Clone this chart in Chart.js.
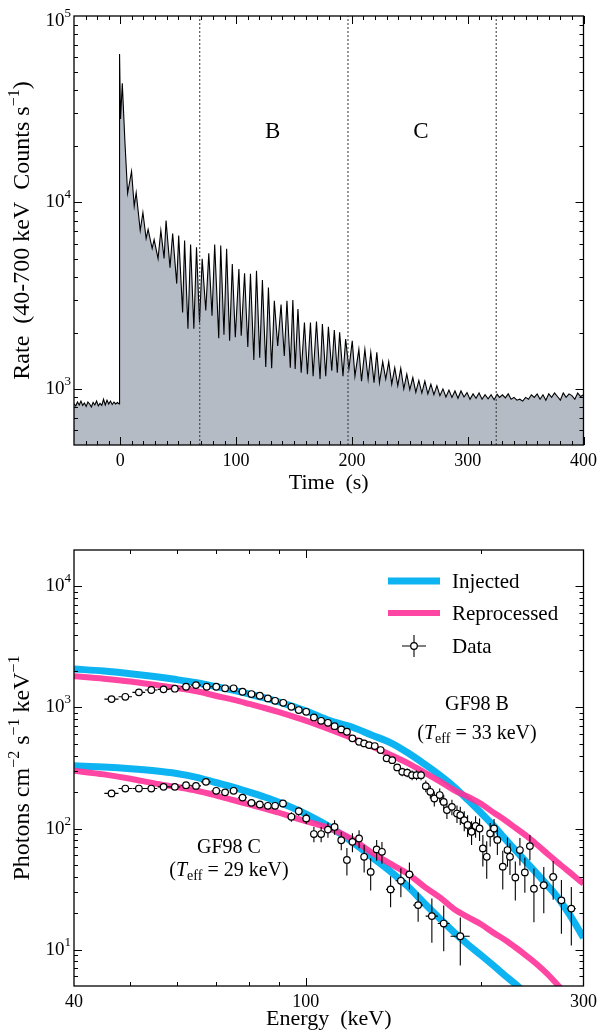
<!DOCTYPE html>
<html>
<head>
<meta charset="utf-8">
<script src="https://cdn.jsdelivr.net/npm/chart.js@4.4.1/dist/chart.umd.min.js"></script>
<style>
  html, body { margin: 0; padding: 0; background: #fff; }
  #wrap { position: relative; width: 602px; height: 1032px; }
  canvas { position: absolute; left: 0; }
  #lc { top: 0; }
  #sp { top: 500px; }
</style>
</head>
<body>
<div id="wrap">
  <canvas id="lc" width="602" height="500"></canvas>
  <canvas id="sp" width="602" height="532"></canvas>
</div>
<script>
const FONT = '"Liberation Serif", "DejaVu Serif", serif';

// ---- top panel: light curve (40-700 keV) ----
const lcTime = [
  -40, -38.5, -37, -35.5, -34, -32.5, -31, -29.5, -28, -26.5,
  -25, -23.5, -22, -20.5, -19, -17.5, -16, -14.5, -13, -11.5,
  -10, -8.5, -7, -5.5, -4, -2.5, -1, -0.7,
  -0.6, 0.2, 1.7, 4.0, 6.3, 9.7, 12.0, 13.7, 17.2, 19.5,
  22.3, 24.0, 27.5, 29.2, 32.6, 35.0, 37.8, 39.5, 42.9, 45.2,
  48.7, 50.4, 53.8, 55.5, 58.4, 60.7, 63.5, 65.8, 68.4, 70.7,
  73.8, 76.4, 79.2, 81.5, 85.0, 86.7, 89.5, 91.8, 94.4, 96.7,
  99.3, 102.4, 104.4, 107.3, 110.1, 112.4, 115.3, 117.6, 120.4, 122.7,
  125.6, 127.9, 130.7, 133.0, 135.9, 138.8, 141.6, 143.9, 146.8, 149.0,
  151.0, 153.4, 156.2, 159.0, 161.6, 164.2, 166.5, 169.4, 172.5, 174.5,
  177.4, 179.7, 182.6, 184.8, 187.4, 189.4, 192.3, 194.6, 197.4, 200.3,
  202.6, 206.0, 208.3, 211.2, 214.0, 216.3, 219.1, 221.5, 223.8, 226.6,
  229.2, 231.8, 234.4, 237.0, 239.6, 242.2, 244.8, 247.4, 250.0, 252.6,
  255.2, 257.8, 260.4, 263.0, 265.6, 268.2, 270.8, 273.4, 276.0, 278.6,
  281.2, 283.8, 286.4, 289.0, 291.6, 294.2, 296.8, 299.4, 302.0, 304.6,
  307.2, 309.8, 312.4, 315.0, 317.6, 320.2, 322.8, 325.4, 327.5, 330,
  332.5, 335, 337.5, 340, 342.5, 345, 347.5, 350, 352.5, 355,
  357.5, 360, 362.5, 365, 367.5, 370, 372.5, 375, 377.5, 380,
  382.5, 385, 387.5, 390, 392.5, 395, 397.5, 400
];
const lcRate = [
  830, 810, 850, 820, 860, 815, 840, 805, 850, 830,
  800, 845, 820, 860, 810, 835, 815, 880, 820, 870,
  830, 860, 825, 850, 830, 845, 830, 840,
  62500, 28000, 43500, 21000, 11200, 14700, 9550, 11300, 7070, 8830,
  6400, 7160, 5660, 6320, 5000, 7070, 5000, 8000, 4470, 6810,
  3670, 6650, 2570, 6250, 2100, 5950, 2100, 5750, 2270, 4980,
  2630, 5340, 2470, 5950, 1870, 5870, 1950, 5640, 1810, 4680,
  1890, 4400, 1930, 4170, 1680, 4140, 1430, 4300, 1470, 3840,
  1310, 3500, 1290, 2970, 1700, 2830, 1500, 2970, 1300, 3000,
  1280, 2680, 1220, 2270, 1200, 2270, 1170, 2300, 1130, 2230,
  1170, 2150, 1250, 2070, 1220, 2010, 1170, 1850, 1280, 1810,
  1170, 1630, 1100, 1630, 1130, 1570, 1080, 1570, 1080, 1400,
  1130, 1400, 1060, 1300, 1040, 1290, 1000, 1200, 990, 1150,
  960, 1110, 950, 1100, 940, 1060, 930, 1040, 920, 1000,
  905, 985, 900, 975, 890, 975, 905, 955, 880, 940,
  890, 950, 880, 930, 885, 930, 875, 935, 900, 930,
  895, 940, 880, 900, 870, 880, 860, 900, 880, 930,
  900, 940, 880, 930, 870, 940, 900, 950, 910, 870,
  950, 900, 940, 920, 880, 950, 910, 930
];
const intervalEdges = [68.6, 196.6, 324.6];
const intervalNames = ['B', 'C'];
const timeTicks = [0, 100, 200, 300, 400];

// ---- bottom panel: spectra ----
const modelEnergy = [40, 45, 50, 55, 60, 65, 70, 75, 80, 85, 90, 95, 100, 110, 120, 130, 140, 150,
  160, 170, 180, 190, 200, 210, 220, 230, 240, 250, 260, 270, 280, 290, 300];
const injectedB = [2080, 2000, 1900, 1800, 1700, 1600, 1490, 1390, 1290, 1200, 1110, 1020, 940, 780, 690, 590, 510, 420,
  340, 275, 220, 172, 135, 106, 82, 65, 52, 42, 34, 27.5, 21.5, 16.5, 12.5];
const reprocessedB = [1815, 1730, 1640, 1540, 1450, 1360, 1250, 1160, 1070, 990, 915, 845, 780, 660, 560, 475, 405, 345,
  290, 245, 207, 183, 160, 136, 117, 100, 86, 73, 62, 53, 46, 40, 35];
const injectedC = [330, 322, 312, 300, 285, 265, 240, 220, 200, 182, 165, 148, 132, 103, 78, 58, 44, 33,
  24, 18, 13.8, 11, 9, 7.4, 6.1, 5.1, 4.2, 3.5, 2.9, 2.4, 2, 1.7, 1.4];
const reprocessedC = [300, 280, 258, 236, 220, 205, 188, 172, 158, 146, 135, 124, 115, 100, 82, 63, 51, 42,
  33, 27, 21.5, 18.5, 16.2, 13.8, 12.0, 10.3, 8.8, 7.5, 6.3, 5.2, 4.3, 3.6, 3.0];

const dataEnergyB = [46.4, 49.0, 51.7, 54.3, 57.0, 59.6, 62.3, 64.8, 67.6, 70.2,
  72.7, 75.2, 77.9, 80.7, 83.4, 86.1, 88.6, 91.5, 94.5, 97.3,
  100.2, 103.3, 106.3, 109.2, 112.1, 115.1, 117.7, 120.3, 123.5, 126.0,
  128.5, 131.4, 134.5, 137.7, 140.8, 143.6, 146.5, 149.4, 152.3, 155.0,
  157.8, 160.8, 163.7, 166.3, 169.9, 172.6, 174.8, 178.3, 181.9, 184.3,
  187.2, 189.7, 192.7, 195.8, 198.9, 201.5, 204.6, 207.4, 210.6, 213.4,
  218.0, 222.1, 224.3, 229.1, 233.3, 237.9, 242.7, 246.6, 256.4, 266.1,
  274.9, 285.9];
const dataFluxB = [1173, 1225, 1333, 1394, 1412, 1429, 1483, 1531, 1483, 1483,
  1440, 1440, 1349, 1291, 1250, 1189, 1136, 1093, 1013, 952,
  921, 827, 776, 747, 701, 659, 630, 556, 521, 505,
  489, 480, 445, 380, 367, 320, 294, 289, 276, 276,
  276, 224, 201, 177, 189, 166, 142, 151, 133, 129,
  117, 107, 94, 105, 100, 68.5, 58.4, 91, 100, 80.5,
  48.4, 66.4, 58.4, 39.4, 66.4, 43.4, 71.6, 31.8, 34, 39.8,
  25.5, 21.8];
const dataErrB = [15, 15, 15, 15, 15, 15, 15, 15, 15, 15,
  15, 15, 15, 15, 15, 15, 15, 15, 15, 15,
  15, 15, 15, 15, 15, 15, 15, 15, 15, 15,
  16, 16, 17, 18, 20, 22, 24, 24, 25, 25,
  25, 25, 25, 25, 25, 24, 22, 22, 22, 22,
  22, 22, 21, 21, 21, 20, 20, 20, 20, 20,
  17, 18, 17, 14, 17, 14, 17, 15, 14, 14,
  12, 11];
const dataBinB = [1.3, 1.3, 1.3, 1.3, 1.3, 1.3, 1.3, 1.3, 1.3, 1.3,
  1.2, 1.2, 1.3, 1.4, 1.4, 1.3, 1.3, 1.4, 1.4, 1.4,
  1.5, 1.5, 1.5, 1.5, 1.5, 1.5, 1.3, 1.4, 1.5, 1.3,
  1.3, 1.5, 1.5, 1.6, 1.5, 1.4, 1.5, 1.5, 1.4, 1.4,
  1.4, 1.5, 1.5, 1.4, 1.8, 1.4, 1.2, 1.8, 1.8, 1.2,
  1.5, 1.3, 1.5, 1.6, 1.6, 1.4, 1.6, 1.4, 1.6, 1.4,
  2.3, 2.0, 1.2, 2.4, 2.1, 2.3, 2.4, 2.0, 4.5, 4.5,
  4.0, 5.0];

const dataEnergyC = [46.4, 49.0, 51.7, 54.3, 57.0, 59.6, 62.3, 64.8, 67.4, 70.2,
  72.7, 75.2, 77.9, 80.7, 83.4, 86.1, 88.6, 91.4, 94.5, 97.3,
  100.2, 103.3, 106.3, 109.2, 112.1, 115.1, 117.7, 120.3, 123.5, 126.0,
  129.3, 132.4, 135.2, 139.9, 145.7, 150.7, 156.0, 164.7, 172.6, 184.3];
const dataFluxC = [195, 214, 214, 214, 221, 221, 228, 225, 243, 205,
  199, 205, 180, 163, 158, 154, 154, 161, 125, 139,
  121, 90, 90, 98, 103, 80, 55, 77.6, 82.8, 58.4,
  43.8, 67.2, 64.2, 31.4, 37, 41.8, 23.3, 18.9, 16.4, 12.9];
const dataErrC = [5, 5, 5, 5, 5, 5, 5, 5, 6, 6,
  6, 7, 8, 9, 9, 10, 10, 11, 11, 12,
  12, 13, 13, 14, 14, 14, 14, 14, 14, 15,
  13, 13, 13, 9, 10, 10.5, 6.3, 7.5, 6.7, 5.5];
const dataBinC = [1.3, 1.3, 1.3, 1.3, 1.3, 1.3, 1.3, 1.3, 1.3, 1.3,
  1.2, 1.2, 1.3, 1.4, 1.4, 1.3, 1.3, 1.4, 1.4, 1.4,
  1.5, 1.5, 1.5, 1.5, 1.5, 1.5, 1.3, 1.4, 1.5, 1.3,
  1.8, 1.5, 1.5, 2.5, 3.0, 2.5, 3.0, 4.0, 4.0, 7.0];
const energyTicks = [40, 100, 300];

const BLUE = 'rgba(0, 176, 240, 0.95)';
const PINK = 'rgba(255, 50, 152, 0.9)';

// text made of runs (for superscripts, italics, subscripts)
function drawRuns(ctx, runs, x, y, align, angle) {
  ctx.save();
  ctx.translate(x, y);
  if (angle) ctx.rotate(angle);
  const fontOf = r => (r.it ? 'italic ' : '') + r.s + 'px ' + FONT;
  let w = 0;
  runs.forEach(r => { ctx.font = fontOf(r); w += ctx.measureText(r.t).width; });
  let cx = align === 'right' ? -w : (align === 'left' ? 0 : -w / 2);
  ctx.fillStyle = '#000';
  ctx.textAlign = 'left';
  ctx.textBaseline = 'alphabetic';
  runs.forEach(r => {
    ctx.font = fontOf(r);
    ctx.fillText(r.t, cx, r.dy || 0);
    cx += ctx.measureText(r.t).width;
  });
  ctx.restore();
}

function logMinors(lo, hi) {
  const out = [];
  for (let d = Math.floor(Math.log10(lo)); d <= Math.ceil(Math.log10(hi)); d++) {
    for (let m = 2; m <= 9; m++) {
      const v = m * Math.pow(10, d);
      if (v > lo && v < hi) out.push(v);
    }
  }
  return out;
}

function drawFrame(chart, xMajor, xMinor, yMajor, yMinor) {
  const { ctx, chartArea: a } = chart;
  const xs = chart.scales.x, ys = chart.scales.y;
  ctx.save();
  ctx.strokeStyle = '#000';
  ctx.lineWidth = 1;
  ctx.beginPath();
  const vt = (v, len) => {
    const p = Math.round(xs.getPixelForValue(v)) + 0.5;
    ctx.moveTo(p, a.bottom); ctx.lineTo(p, a.bottom - len);
    ctx.moveTo(p, a.top); ctx.lineTo(p, a.top + len);
  };
  const ht = (v, len) => {
    const p = Math.round(ys.getPixelForValue(v)) + 0.5;
    ctx.moveTo(a.left, p); ctx.lineTo(a.left + len, p);
    ctx.moveTo(a.right, p); ctx.lineTo(a.right - len, p);
  };
  xMajor.forEach(v => vt(v, 8));
  xMinor.forEach(v => vt(v, 4));
  yMajor.forEach(v => ht(v, 8));
  yMinor.forEach(v => ht(v, 4));
  ctx.stroke();
  ctx.lineWidth = 1.3;
  ctx.strokeRect(a.left, a.top, a.right - a.left, a.bottom - a.top);
  ctx.restore();
}

function drawPowLabels(chart, exps) {
  const { ctx, chartArea: a } = chart;
  const ys = chart.scales.y;
  exps.forEach(k => {
    const py = ys.getPixelForValue(Math.pow(10, k));
    const base = Math.max(py + 5, a.top + 10);
    drawRuns(ctx, [{ t: '10', s: 19 }, { t: String(k), s: 13, dy: -9 }], a.left - 3, base, 'right');
  });
}

const lcDecor = {
  id: 'lcDecor',
  afterDraw(chart) {
    const { ctx, chartArea: a } = chart;
    const xs = chart.scales.x, ys = chart.scales.y;
    const minorT = [];
    for (let t = -30; t < 400; t += 10) if (t % 100 !== 0) minorT.push(t);
    drawFrame(chart, timeTicks, minorT, [1e3, 1e4], logMinors(500, 1e5));
    drawPowLabels(chart, [3, 4, 5]);
    // interval names
    ctx.save();
    ctx.font = '23px ' + FONT;
    ctx.fillStyle = '#000';
    ctx.textAlign = 'center';
    ctx.textBaseline = 'middle';
    intervalNames.forEach((n, i) => {
      const mid = (intervalEdges[i] + intervalEdges[i + 1]) / 2;
      ctx.fillText(n, xs.getPixelForValue(mid - 1), ys.getPixelForValue(24000));
    });
    ctx.restore();
    drawRuns(ctx, [{ t: 'Time  (s)', s: 22 }], (a.left + a.right) / 2, 489, 'center');
    drawRuns(ctx, [{ t: 'Rate  (40-700 keV  Counts s', s: 24 }, { t: '\u22121', s: 16, dy: -10 }, { t: ')', s: 24 }],
      29, (a.top + a.bottom) / 2, 'center', -Math.PI / 2);
  }
};

new Chart(document.getElementById('lc'), {
  type: 'line',
  data: {
    datasets: [
      ...intervalEdges.map(t => ({
        data: [{ x: t, y: 500 }, { x: t, y: 1e5 }],
        borderColor: '#333', borderWidth: 1, borderDash: [2, 2],
        pointRadius: 0, fill: false, order: 0
      })),
      {
        data: lcTime.map((t, i) => ({ x: t, y: lcRate[i] })),
        borderColor: '#000', borderWidth: 1.1, backgroundColor: '#b4bbc5',
        fill: 'start', pointRadius: 0, tension: 0, order: 1
      }
    ]
  },
  options: {
    responsive: false,
    animation: false,
    devicePixelRatio: 1,
    layout: { padding: { top: 16, right: 16, left: 0, bottom: 0 } },
    plugins: { legend: { display: false }, tooltip: { enabled: false } },
    scales: {
      x: {
        type: 'linear', min: -40, max: 400,
        grid: { display: false, drawTicks: false }, border: { display: false },
        afterBuildTicks: s => { s.ticks = timeTicks.map(v => ({ value: v })); },
        afterFit: s => { s.height = 55; },
        ticks: { font: { family: FONT, size: 18 }, color: '#000', padding: 5, maxRotation: 0, autoSkip: false,
          callback: v => String(v) }
      },
      y: {
        type: 'logarithmic', min: 500, max: 1e5,
        grid: { display: false, drawTicks: false }, border: { display: false },
        ticks: { display: false },
        afterFit: s => { s.width = 74; }
      }
    }
  },
  plugins: [lcDecor]
});

// ---- spectra chart ----
const errorBars = {
  id: 'errorBars',
  beforeDatasetDraw(chart, args) {
    const ds = chart.data.datasets[args.index];
    if (!ds.errY) return;
    const { ctx, chartArea: a } = chart;
    const xs = chart.scales.x, ys = chart.scales.y;
    ctx.save();
    ctx.beginPath();
    ctx.rect(a.left, a.top, a.right - a.left, a.bottom - a.top);
    ctx.clip();
    ctx.strokeStyle = '#000';
    ctx.lineWidth = 1.1;
    ctx.beginPath();
    ds.data.forEach((p, i) => {
      const px = xs.getPixelForValue(p.x), py = ys.getPixelForValue(p.y);
      const hi = ys.getPixelForValue(p.y + ds.errY[i]);
      const lo = ys.getPixelForValue(Math.max(p.y - ds.errY[i], 1));
      ctx.moveTo(px, hi); ctx.lineTo(px, lo);
      ctx.moveTo(xs.getPixelForValue(p.x - ds.errX[i]), py);
      ctx.lineTo(xs.getPixelForValue(p.x + ds.errX[i]), py);
    });
    ctx.stroke();
    ctx.restore();
  }
};

const spDecor = {
  id: 'spDecor',
  afterDraw(chart) {
    const { ctx, chartArea: a } = chart;
    drawFrame(chart, [100], [50, 60, 70, 80, 90, 200], [10, 100, 1000, 1e4], logMinors(5, 2e4));
    drawPowLabels(chart, [1, 2, 3, 4]);
    drawRuns(ctx, [{ t: 'Energy  (keV)', s: 22 }], (a.left + a.right) / 2, 525, 'center');
    drawRuns(ctx, [
      { t: 'Photons cm', s: 24 }, { t: '\u22122', s: 16, dy: -10 },
      { t: ' s', s: 24 }, { t: '\u22121', s: 16, dy: -10 },
      { t: ' keV', s: 24 }, { t: '\u22121', s: 16, dy: -10 }
    ], 29, (a.top + a.bottom) / 2, 'center', -Math.PI / 2);

    // legend
    ctx.save();
    ctx.lineCap = 'butt';
    ctx.lineWidth = 7; ctx.strokeStyle = BLUE;
    ctx.beginPath(); ctx.moveTo(388, 81); ctx.lineTo(440, 81); ctx.stroke();
    ctx.lineWidth = 6; ctx.strokeStyle = PINK;
    ctx.beginPath(); ctx.moveTo(388, 113); ctx.lineTo(440, 113); ctx.stroke();
    ctx.lineWidth = 1.1; ctx.strokeStyle = '#000';
    ctx.beginPath();
    ctx.moveTo(402, 146); ctx.lineTo(426, 146);
    ctx.moveTo(414, 135); ctx.lineTo(414, 157);
    ctx.stroke();
    ctx.fillStyle = '#fff'; ctx.lineWidth = 1.2;
    ctx.beginPath(); ctx.arc(414, 146, 3.3, 0, Math.PI * 2); ctx.fill(); ctx.stroke();
    ctx.restore();
    drawRuns(ctx, [{ t: 'Injected', s: 21 }], 452, 88, 'left');
    drawRuns(ctx, [{ t: 'Reprocessed', s: 21 }], 452, 120, 'left');
    drawRuns(ctx, [{ t: 'Data', s: 21 }], 452, 153, 'left');

    // spectrum labels
    drawRuns(ctx, [{ t: 'GF98 B', s: 20 }], 477, 210, 'center');
    drawRuns(ctx, [{ t: '(', s: 20 }, { t: 'T', s: 20, it: true }, { t: 'eff', s: 14, dy: 4 },
      { t: ' = 33 keV)', s: 20 }], 477, 239, 'center');
    drawRuns(ctx, [{ t: 'GF98 C', s: 20 }], 229, 353, 'center');
    drawRuns(ctx, [{ t: '(', s: 20 }, { t: 'T', s: 20, it: true }, { t: 'eff', s: 14, dy: 4 },
      { t: ' = 29 keV)', s: 20 }], 229, 376, 'center');
  }
};

const curve = (ys, color, w, order) => ({
  data: modelEnergy.map((e, i) => ({ x: e, y: ys[i] })),
  borderColor: color, borderWidth: w, pointRadius: 0, fill: false,
  cubicInterpolationMode: 'monotone', clip: 0, order: order
});
const points = (es, fs, ey, ex) => ({
  data: es.map((e, i) => ({ x: e, y: fs[i] })),
  errY: ey, errX: ex,
  showLine: false, pointStyle: 'circle', pointRadius: 3.3,
  pointBackgroundColor: '#fff', pointBorderColor: '#000', pointBorderWidth: 1.2,
  order: 0
});

new Chart(document.getElementById('sp'), {
  type: 'line',
  data: {
    datasets: [
      points(dataEnergyB, dataFluxB, dataErrB, dataBinB),
      points(dataEnergyC, dataFluxC, dataErrC, dataBinC),
      curve(reprocessedB, PINK, 6, 1),
      curve(reprocessedC, PINK, 6, 1),
      curve(injectedB, BLUE, 7, 2),
      curve(injectedC, BLUE, 7, 2)
    ]
  },
  options: {
    responsive: false,
    animation: false,
    devicePixelRatio: 1,
    layout: { padding: { top: 50, right: 16, left: 0, bottom: 0 } },
    plugins: { legend: { display: false }, tooltip: { enabled: false } },
    scales: {
      x: {
        type: 'logarithmic', min: 40, max: 300,
        grid: { display: false, drawTicks: false }, border: { display: false },
        afterBuildTicks: s => { s.ticks = energyTicks.map(v => ({ value: v })); },
        afterFit: s => { s.height = 46; },
        ticks: { font: { family: FONT, size: 18 }, color: '#000', padding: 5, maxRotation: 0, autoSkip: false,
          callback: v => String(v) }
      },
      y: {
        type: 'logarithmic', min: 5, max: 2e4,
        grid: { display: false, drawTicks: false }, border: { display: false },
        ticks: { display: false },
        afterFit: s => { s.width = 74; }
      }
    }
  },
  plugins: [errorBars, spDecor]
});
</script>
</body>
</html>
